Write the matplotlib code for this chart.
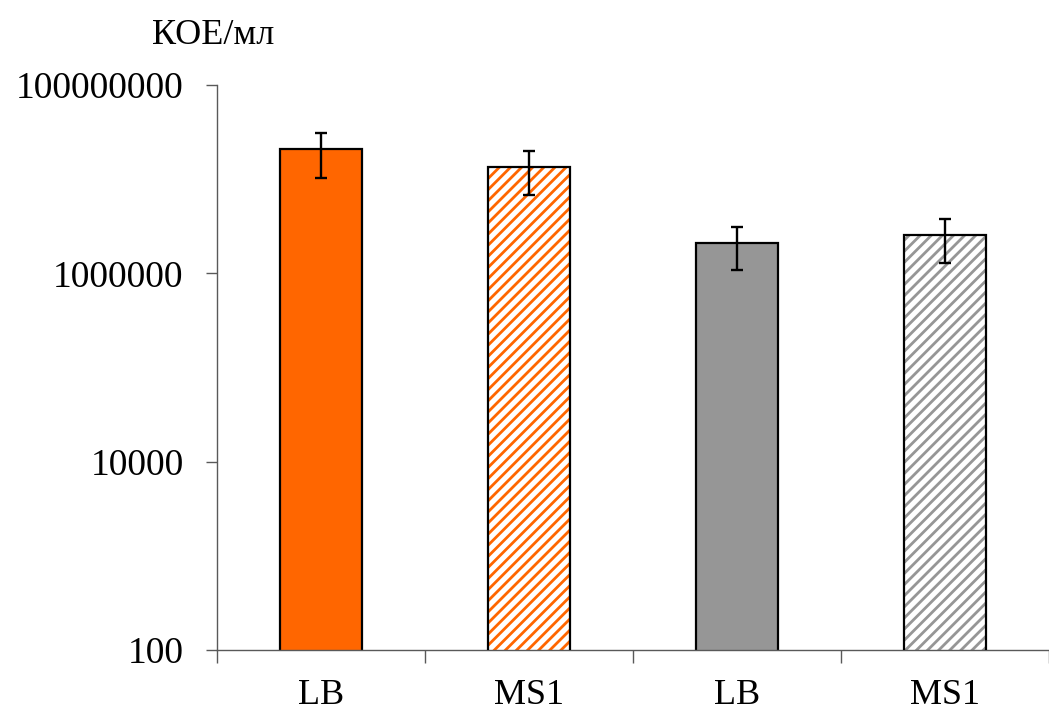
import matplotlib.pyplot as plt
import numpy as np

# Bar labels and values (CFU/ml, log scale)
labels = ["LB", "MS1", "LB", "MS1"]
values = [2.07e7, 1.34e7, 2.08e6, 2.55e6]
errors = [1.05e7, 6.6e6, 1.0e6, 1.25e6]
colors = ["#ff6600", "#ff6600", "#969696", "#969696"]
hatched = [False, True, False, True]

yticks = [1e2, 1e4, 1e6, 1e8]
ytick_labels = ["100", "10000", "1000000", "100000000"]

plt.rcParams["font.family"] = ["Liberation Serif", "DejaVu Serif"]
plt.rcParams["hatch.linewidth"] = 2.0

W, H = 1049, 711
fig = plt.figure(figsize=(W / 100, H / 100), dpi=100)
ax = fig.add_axes([217 / W, 61 / H, (W - 217) / W, 565 / H])

x = np.arange(len(labels))
width = 0.39

for i in range(len(labels)):
    if hatched[i]:
        # hatch in the bar colour, then a black outline on top
        ax.bar(x[i], values[i], width, facecolor="white", edgecolor=colors[i],
               hatch="///", linewidth=0, zorder=2)
        ax.bar(x[i], values[i], width, facecolor="none", edgecolor="black",
               linewidth=1.6, zorder=3)
    else:
        ax.bar(x[i], values[i], width, color=colors[i], edgecolor="black",
               linewidth=1.6, zorder=2)

ax.errorbar(x, values, yerr=errors, fmt="none", ecolor="black",
            elinewidth=1.7, capsize=4, capthick=1.7, zorder=4)

ax.set_yscale("log")
ax.set_ylim(1e2, 1e8)
ax.set_yticks(yticks)
ax.set_yticklabels(ytick_labels)
ax.yaxis.set_minor_locator(plt.NullLocator())

ax.set_xlim(-0.5, -0.5 + (W - 217) / 210)
ax.set_xticks(np.arange(len(labels) + 1) - 0.5)
ax.set_xticklabels([])
ax.set_xticks(x, minor=True)
ax.set_xticklabels(labels, minor=True)
ax.tick_params(axis="x", which="minor", length=0, pad=21, labelsize=26)
ax.tick_params(axis="x", which="major", length=9, width=1, color="#595959")
ax.tick_params(axis="y", length=8, width=1, color="#595959", pad=16, labelsize=27)

for s in ["top", "right"]:
    ax.spines[s].set_visible(False)
for s in ["left", "bottom"]:
    ax.spines[s].set_color("#595959")
    ax.spines[s].set_linewidth(1)

fig.text(213 / W, 1 - 35 / H, "КОЕ/мл", ha="center", va="center", fontsize=26)

fig.savefig("out.png", dpi=100)
